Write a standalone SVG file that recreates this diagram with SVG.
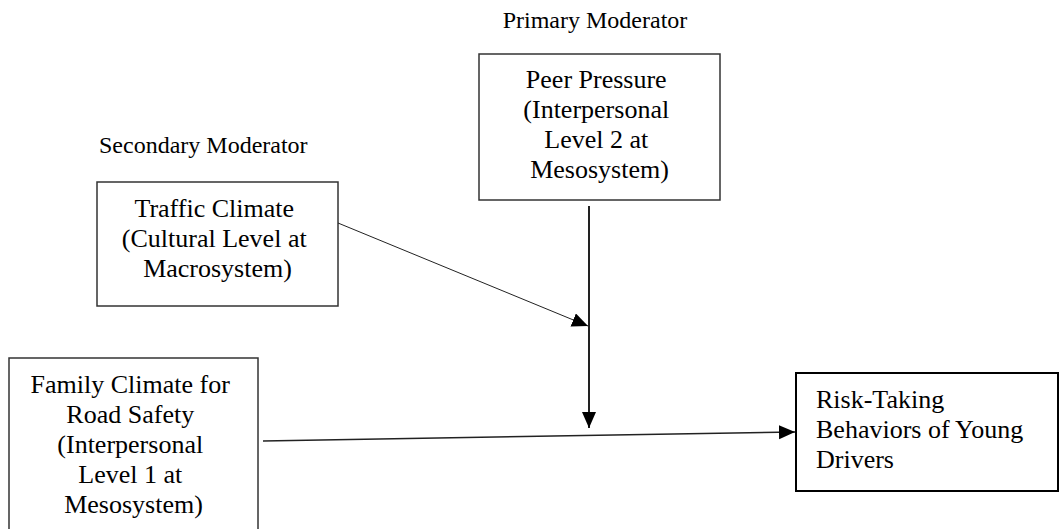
<svg xmlns="http://www.w3.org/2000/svg" width="1060" height="529" viewBox="0 0 1060 529">
  <style>
    .label { font-size: 24px; }
    .body { font-size: 26px; }
    .box { fill: #fff; stroke: #333; stroke-width: 1.5; }
    .link { fill: none; stroke: #222; }
  </style>
  <defs>
    <marker id="head" markerUnits="userSpaceOnUse" markerWidth="18" markerHeight="16" refX="16" refY="7" orient="auto">
      <path d="M0,0 L16,7 L0,14 z" fill="#000"/>
    </marker>
  </defs>
  <rect width="1060" height="529" fill="#fff"/>

  <g font-family="'Liberation Serif', 'DejaVu Serif', 'Times New Roman', serif" fill="#000">
    <!-- moderator captions -->
    <text class="label" x="595" y="28" text-anchor="middle">Primary Moderator</text>
    <text class="label" x="99" y="153">Secondary Moderator</text>

    <g id="peer-pressure">
      <rect class="box" x="479" y="54" width="241" height="146"/>
      <text class="body" text-anchor="middle">
        <tspan x="599.5" y="88">Peer Pressure</tspan>
        <tspan x="599.5" y="118">(Interpersonal</tspan>
        <tspan x="599.5" y="148">Level 2 at</tspan>
        <tspan x="599.5" y="178">Mesosystem)</tspan>
      </text>
    </g>

    <g id="traffic-climate">
      <rect class="box" x="97" y="182" width="241" height="124"/>
      <text class="body" text-anchor="middle">
        <tspan x="217.5" y="217">Traffic Climate</tspan>
        <tspan x="217.5" y="247">(Cultural Level at</tspan>
        <tspan x="217.5" y="277">Macrosystem)</tspan>
      </text>
    </g>

    <g id="family-climate">
      <rect class="box" x="9" y="358" width="249" height="180"/>
      <text class="body" text-anchor="middle">
        <tspan x="133.5" y="393">Family Climate for</tspan>
        <tspan x="133.5" y="423">Road Safety</tspan>
        <tspan x="133.5" y="453">(Interpersonal</tspan>
        <tspan x="133.5" y="483">Level 1 at</tspan>
        <tspan x="133.5" y="513">Mesosystem)</tspan>
      </text>
    </g>

    <g id="risk-taking">
      <rect class="box" x="796" y="373" width="262" height="118" style="stroke:#000;stroke-width:2"/>
      <text class="body">
        <tspan x="816" y="408">Risk-Taking</tspan>
        <tspan x="816" y="438">Behaviors of Young</tspan>
        <tspan x="816" y="468">Drivers</tspan>
      </text>
    </g>
  </g>

  <g id="connectors">
    <line class="link" x1="338" y1="223" x2="588" y2="326" stroke-width="1" marker-end="url(#head)"/>
    <line class="link" x1="589" y1="206" x2="589" y2="428" stroke-width="2" marker-end="url(#head)"/>
    <line class="link" x1="263" y1="441" x2="795" y2="432" stroke-width="1.5" marker-end="url(#head)"/>
  </g>
</svg>
